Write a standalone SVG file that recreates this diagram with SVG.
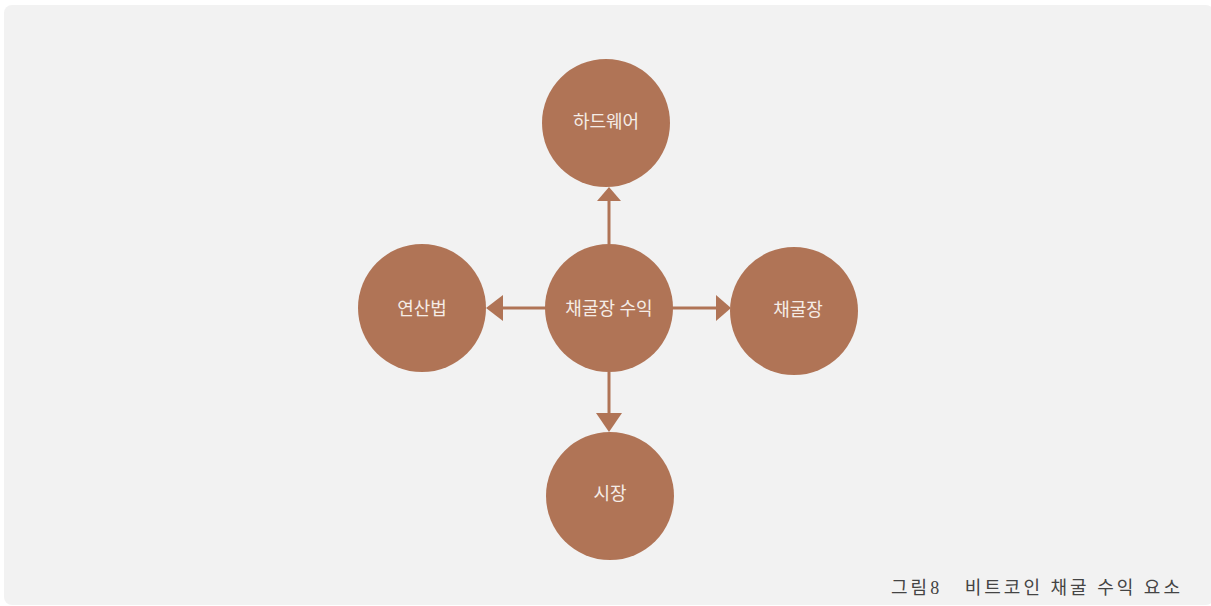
<svg xmlns="http://www.w3.org/2000/svg" width="1211" height="606" viewBox="0 0 1211 606">
<defs>
<style>
.node circle{fill:#b07456;}
.node text{fill:#f5ece6;font-family:"Liberation Serif","Noto Sans CJK KR",serif;font-size:18px;text-anchor:middle;dominant-baseline:central;}
.conn line{stroke:#b07456;stroke-width:3;}
.conn polygon{fill:#b07456;}
.cap{fill:#444;font-family:"Liberation Serif","Noto Sans CJK KR",serif;font-size:18px;white-space:pre;}
</style>
</defs>
<rect x="0" y="0" width="1211" height="606" fill="#ffffff"/>
<rect x="4" y="5" width="1210" height="600" rx="8" fill="#f2f2f2"/>
<g class="conn" id="connectors">
<line x1="609" y1="244" x2="609" y2="199"/>
<polygon points="597,201 621,201 609,187"/>
<line x1="546" y1="308" x2="501" y2="308"/>
<polygon points="503,295 503,321 486,308"/>
<line x1="672" y1="308" x2="718" y2="308"/>
<polygon points="716,295 716,321 731,308"/>
<line x1="609" y1="372" x2="609" y2="415"/>
<polygon points="596,413 622,413 609,432"/>
</g>
<g class="node" id="n-hardware"><circle cx="606" cy="123" r="64"/><text x="606" y="122">하드웨어</text></g>
<g class="node" id="n-center"><circle cx="609" cy="308" r="64"/><text x="609" y="309">채굴장 수익</text></g>
<g class="node" id="n-algo"><circle cx="422" cy="308" r="64"/><text x="422" y="309">연산법</text></g>
<g class="node" id="n-mine"><circle cx="794" cy="311" r="64"/><text x="798" y="310">채굴장</text></g>
<g class="node" id="n-market"><circle cx="610" cy="496" r="64"/><text x="610" y="494">시장</text></g>
<text class="cap" x="891" y="594" xml:space="preserve" textLength="289" lengthAdjust="spacing">그림8   비트코인 채굴 수익 요소</text>
</svg>
